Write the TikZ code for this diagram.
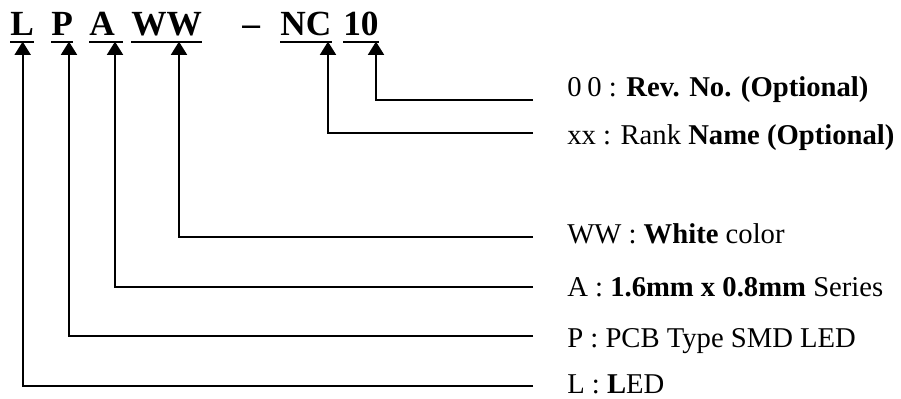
\documentclass[tikz,border=0pt]{standalone}
\usepackage{fontspec}
\setmainfont{Liberation Serif}
\usetikzlibrary{arrows.meta, positioning}
\tikzset{
	code/.style ={anchor=base west, inner sep=0pt, text depth=4pt, font=\fontsize{26.5}{30}\selectfont\bfseries},
	desc/.style ={anchor=base west, inner sep=0pt, text depth=0pt, font=\fontsize{21.5}{26}\selectfont},
	uline/.style={line width=1.5pt},
	conn/.style ={line width=1.5pt, -{Triangle[length=10pt, width=12pt]}},
}
\begin{document}
\begin{tikzpicture}[x=0.75pt, y=-0.75pt]
	\useasboundingbox (0,0) rectangle (901,399);
	% part number
	\node[code] (L)  at (10,36)  {L};
	\node[code] (P)  at (51,36)  {P};
	\node[code] (A)  at (89,36)  {A\kern6pt};
	\node[code] (WW) at (131,36) {WW};
	\node[code, text depth=0pt] (dash) at (242,36) {--};
	\node[code] (NC) at (280,36) {NC};
	\node[code] (T)  at (343,36) {10};
	% meanings
	\node[desc] (dT)  at (567,97)  {0\kern.2em0 : \textbf{Rev. No. (Optional)}};
	\node[desc] (dNC) at (567,145) {xx : Rank \textbf{Name (Optional)}};
	\node[desc] (dWW) at (567,244) {WW : \textbf{White} color};
	\node[desc] (dA)  at (567,297) {A : \textbf{1.6mm x 0.8mm} Series};
	\node[desc] (dP)  at (567,348) {P : PCB Type SMD LED};
	\node[desc] (dL)  at (567,393) {L : \textbf{L}ED};
	% underlines and leaders
	\foreach \nm/\dx/\ly in {L/9.5/386, P/13.5/336, A/19.5/287, WW/36/237, NC/36/133, T/24.75/100} {
		\draw[uline] (\nm.south west) -- (\nm.south east);
		\coordinate (e\nm) at (533,\ly);
		\draw[conn] (e\nm) -| ([xshift=\dx pt]\nm.south west);
	}
\end{tikzpicture}
\end{document}
